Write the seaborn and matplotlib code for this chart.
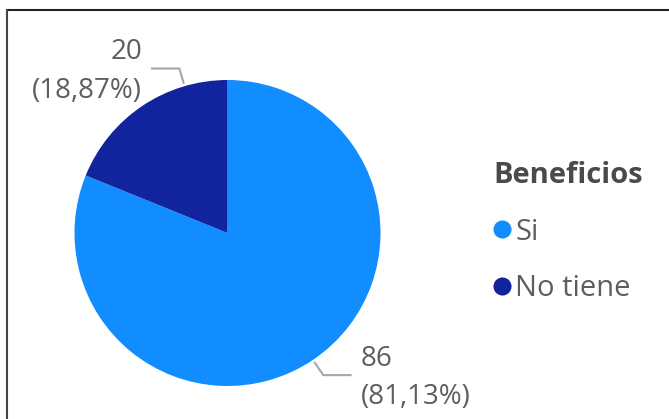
import matplotlib
matplotlib.use("Agg")
import matplotlib.pyplot as plt
from matplotlib.lines import Line2D
import numpy as np
import seaborn as sns

sns.set_style("white")
plt.rcParams["font.family"] = ["Open Sans", "DejaVu Sans"]

# Data
categories = ["Si", "No tiene"]
counts = [86, 20]
colors = ["#118DFF", "#12239E"]
legend_title = "Beneficios"

TEXT = "#605E5C"
W, H = 669, 419
fig = plt.figure(figsize=(W / 100, H / 100), dpi=100)
fig.patch.set_facecolor("white")

# Pie axes: centre and radius in pixels
cx, cy, r = 227.5, 233, 153
ax = fig.add_axes([(cx - r) / W, (H - cy - r) / H, 2 * r / W, 2 * r / H])
wedges, _ = ax.pie(counts, colors=colors, startangle=90, counterclock=False,
                   radius=1, wedgeprops=dict(linewidth=0))
ax.set_xlim(-1, 1)
ax.set_ylim(-1, 1)
ax.set_aspect("equal")
ax.axis("off")

# Data labels with elbow leader lines
total = sum(counts)
anchor_frac = [0.5, 0.76]  # where along each slice (clockwise) the leader starts
for w, v, f in zip(wedges, counts, anchor_frac):
    a = np.deg2rad(w.theta2 - f * (w.theta2 - w.theta1))
    ux, uy = np.cos(a), np.sin(a)
    side = 1 if ux >= 0 else -1
    p0 = (1.02 * ux, 1.02 * uy)
    p1 = (1.12 * ux, 1.12 * uy)
    p2 = (p1[0] + side * 0.18, p1[1])
    ax.add_line(Line2D([p0[0], p1[0], p2[0]], [p0[1], p1[1], p2[1]],
                       color="#A6A6A6", lw=1.5, clip_on=False))
    pct = f"{100 * v / total:.2f}".replace(".", ",")
    ax.text(p2[0] + side * 0.065, p2[1] - 0.02, f"{v}\n({pct}%)",
            ha="left" if side > 0 else "right", va="center",
            fontsize=20, color=TEXT, linespacing=1.5, clip_on=False)

# Legend
handles = [Line2D([], [], marker="o", linestyle="", markersize=13,
                  markerfacecolor=c, markeredgewidth=0) for c in colors]
leg = fig.legend(handles, categories, title=legend_title,
                 loc="upper left", bbox_to_anchor=(493 / W, 1 - 161 / H),
                 frameon=False, alignment="left", fontsize=21,
                 title_fontproperties={"weight": "bold", "size": 21},
                 handlelength=0.62, handletextpad=0.15, labelspacing=0.95,
                 borderpad=0, borderaxespad=0)
for t in leg.get_texts():
    t.set_color(TEXT)
leg.get_title().set_color("#4A4A4A")

# Frame lines along the top and left edges
fig.add_artist(Line2D([7 / W, 1], [1 - 10 / H, 1 - 10 / H],
                      transform=fig.transFigure, color="#222222", lw=1.5))
fig.add_artist(Line2D([7 / W, 7 / W], [0, 1 - 10 / H],
                      transform=fig.transFigure, color="#444444", lw=1.5))

fig.savefig("out.png", dpi=100, facecolor="white")
